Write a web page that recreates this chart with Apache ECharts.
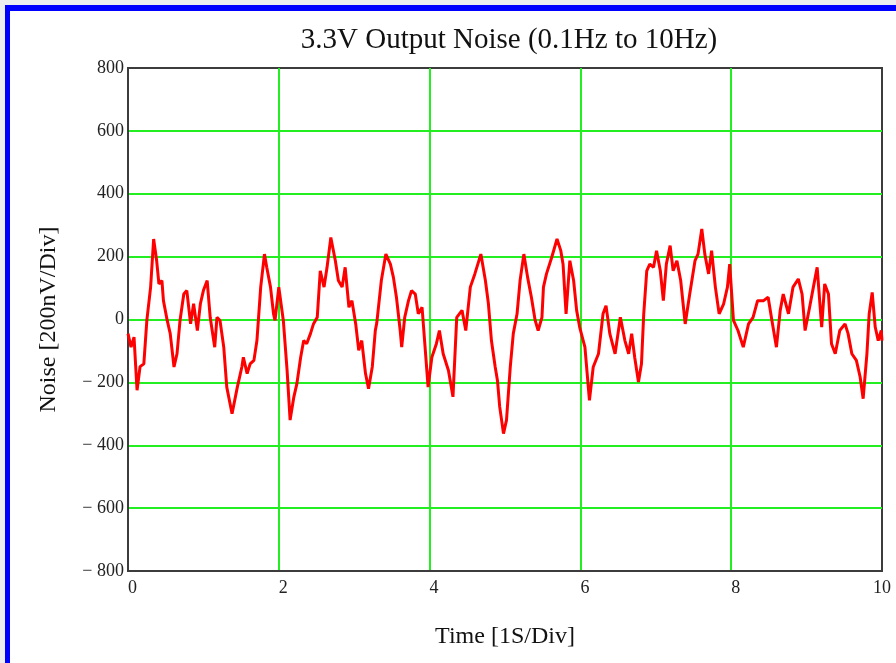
<!DOCTYPE html>
<html>
<head>
<meta charset="utf-8">
<script src="https://cdn.jsdelivr.net/npm/echarts@6/dist/echarts.min.js"></script>
<style>
  html, body { margin: 0; padding: 0; background: #eceef0; overflow: hidden; }
  #frame {
    position: absolute; left: 5px; top: 5px; width: 891px; height: 658px;
    border-left: 5px solid #0000ff; border-top: 6px solid #0000ff;
    background: #ffffff; box-sizing: border-box;
  }
  #chart { position: absolute; left: 0; top: 0; width: 896px; height: 663px; }
</style>
</head>
<body>
<div id="frame"></div>
<div id="chart"></div>
<script>
// noise trace (time in s, noise in nV)
const times = [
  0.00, 0.04, 0.08, 0.12, 0.16, 0.21, 0.25, 0.30, 0.34, 0.38, 0.41, 0.45, 0.47, 0.52, 0.56, 0.61, 0.65, 0.69, 0.74, 0.78,
  0.83, 0.87, 0.92, 0.96, 1.00, 1.05, 1.09, 1.15, 1.18, 1.22, 1.27, 1.31, 1.38, 1.45, 1.51, 1.53, 1.58, 1.62, 1.67, 1.71,
  1.76, 1.81, 1.84, 1.89, 1.93, 1.95, 2.00, 2.02, 2.06, 2.11, 2.15, 2.20, 2.24, 2.29, 2.33, 2.37, 2.42, 2.46, 2.51, 2.55,
  2.60, 2.64, 2.69, 2.75, 2.79, 2.84, 2.88, 2.93, 2.97, 3.02, 3.06, 3.10, 3.15, 3.19, 3.24, 3.28, 3.30, 3.36, 3.42, 3.48,
  3.52, 3.56, 3.61, 3.63, 3.67, 3.72, 3.76, 3.81, 3.85, 3.90, 3.94, 3.98, 4.03, 4.09, 4.13, 4.18, 4.25, 4.31, 4.36, 4.43,
  4.48, 4.54, 4.60, 4.68, 4.74, 4.78, 4.82, 4.87, 4.90, 4.93, 4.98, 5.02, 5.07, 5.11, 5.16, 5.20, 5.25, 5.30, 5.35, 5.40,
  5.44, 5.49, 5.51, 5.55, 5.62, 5.69, 5.74, 5.77, 5.81, 5.86, 5.91, 5.95, 5.99, 6.06, 6.12, 6.17, 6.24, 6.30, 6.34, 6.39,
  6.46, 6.53, 6.59, 6.64, 6.68, 6.72, 6.77, 6.81, 6.84, 6.88, 6.92, 6.97, 7.01, 7.06, 7.10, 7.14, 7.19, 7.23, 7.28, 7.33,
  7.39, 7.45, 7.52, 7.56, 7.61, 7.65, 7.70, 7.74, 7.79, 7.84, 7.90, 7.95, 7.98, 8.03, 8.09, 8.16, 8.23, 8.29, 8.35, 8.43,
  8.49, 8.54, 8.60, 8.65, 8.69, 8.76, 8.82, 8.89, 8.94, 8.98, 9.04, 9.09, 9.14, 9.20, 9.24, 9.29, 9.33, 9.38, 9.44, 9.51,
  9.55, 9.60, 9.66, 9.71, 9.75, 9.80, 9.83, 9.87, 9.91, 9.95, 9.99, 10.00
];
const noise = [
  -45, -88, -56, -225, -150, -141, -3, 103, 256, 187, 113, 124, 60, -3, -45, -151, -109, -3, 81, 92,
  -14, 50, -35, 50, 92, 124, 7, -88, 7, -3, -88, -215, -300, -215, -151, -120, -172, -141, -130, -67,
  103, 208, 166, 103, 18, -3, 103, 103, -3, -162, -320, -246, -204, -120, -67, -77, -45, -14, 7, 155,
  103, 166, 261, 187, 124, 103, 166, 39, 60, -14, -98, -67, -172, -220, -150, -35, -10, 124, 208, 176,
  134, 71, -35, -88, 7, 60, 92, 81, 18, 39, -88, -215, -120, -77, -35, -109, -162, -246, 7, 29,
  -35, 103, 145, 208, 124, 50, -67, -151, -194, -278, -363, -320, -151, -45, 18, 124, 208, 134, 71, -3,
  -35, 7, 103, 145, 198, 256, 219, 176, 18, 187, 124, 29, -24, -88, -257, -151, -109, 18, 44, -45,
  -109, 7, -67, -109, -45, -120, -199, -141, 18, 155, 176, 166, 219, 155, 60, 176, 235, 155, 187, 124,
  -14, 81, 187, 208, 288, 208, 145, 219, 103, 18, 50, 103, 176, -3, -35, -88, -14, 7, 60, 60,
  71, -3, -88, 29, 81, 18, 103, 129, 81, -35, 39, 103, 166, -24, 113, 81, -77, -109, -35, -14,
  -45, -109, -130, -183, -252, -109, 18, 86, -24, -67, -35, -67
];

const serif = '"Liberation Serif", "Times New Roman", serif';
const chart = echarts.init(document.getElementById('chart'));

chart.setOption({
  backgroundColor: 'transparent',
  animation: false,
  title: {
    text: '3.3V Output Noise (0.1Hz to 10Hz)',
    left: 504,
    top: 21,
    textAlign: 'center',
    textStyle: { fontFamily: serif, fontSize: 29, fontWeight: 'normal', color: '#111' }
  },
  grid: {
    left: 128, right: 14, top: 68, bottom: 92,
    outerBoundsMode: 'none',
    show: true, borderColor: '#3c3c3c', borderWidth: 2, backgroundColor: '#fff'
  },
  xAxis: {
    type: 'value',
    min: 0, max: 10, interval: 2,
    name: 'Time [1S/Div]',
    nameLocation: 'middle',
    nameGap: 54,
    nameTextStyle: { fontFamily: serif, fontSize: 24, color: '#111' },
    axisLine: { show: true, onZero: false, lineStyle: { color: '#3c3c3c', width: 2 } },
    axisTick: { show: false },
    axisLabel: {
      fontFamily: serif, fontSize: 18, color: '#222', margin: 8,
      align: 'left', alignMaxLabel: 'center'
    },
    splitLine: { show: true, showMinLine: false, showMaxLine: false, lineStyle: { color: '#22ee22', width: 2 } }
  },
  yAxis: {
    type: 'value',
    min: -800, max: 800, interval: 200,
    name: 'Noise [200nV/Div]',
    nameLocation: 'middle',
    nameGap: 67,
    nameRotate: 90,
    nameTextStyle: { fontFamily: serif, fontSize: 24, color: '#111' },
    axisLine: { show: true, lineStyle: { color: '#3c3c3c', width: 2 } },
    axisTick: { show: false },
    axisLabel: {
      fontFamily: serif, fontSize: 18, color: '#222', margin: 4,
      padding: [6, 0, 0, 0],
      formatter: v => (v < 0 ? '\u2212 ' + Math.abs(v) : String(v))
    },
    splitLine: { show: true, showMinLine: false, showMaxLine: false, lineStyle: { color: '#22ee22', width: 2 } }
  },
  series: [{
    type: 'line',
    data: times.map((t, i) => [t, noise[i]]),
    symbol: 'none',
    lineStyle: { color: '#ff0000', width: 3 },
    z: 5
  }]
});
</script>
</body>
</html>
